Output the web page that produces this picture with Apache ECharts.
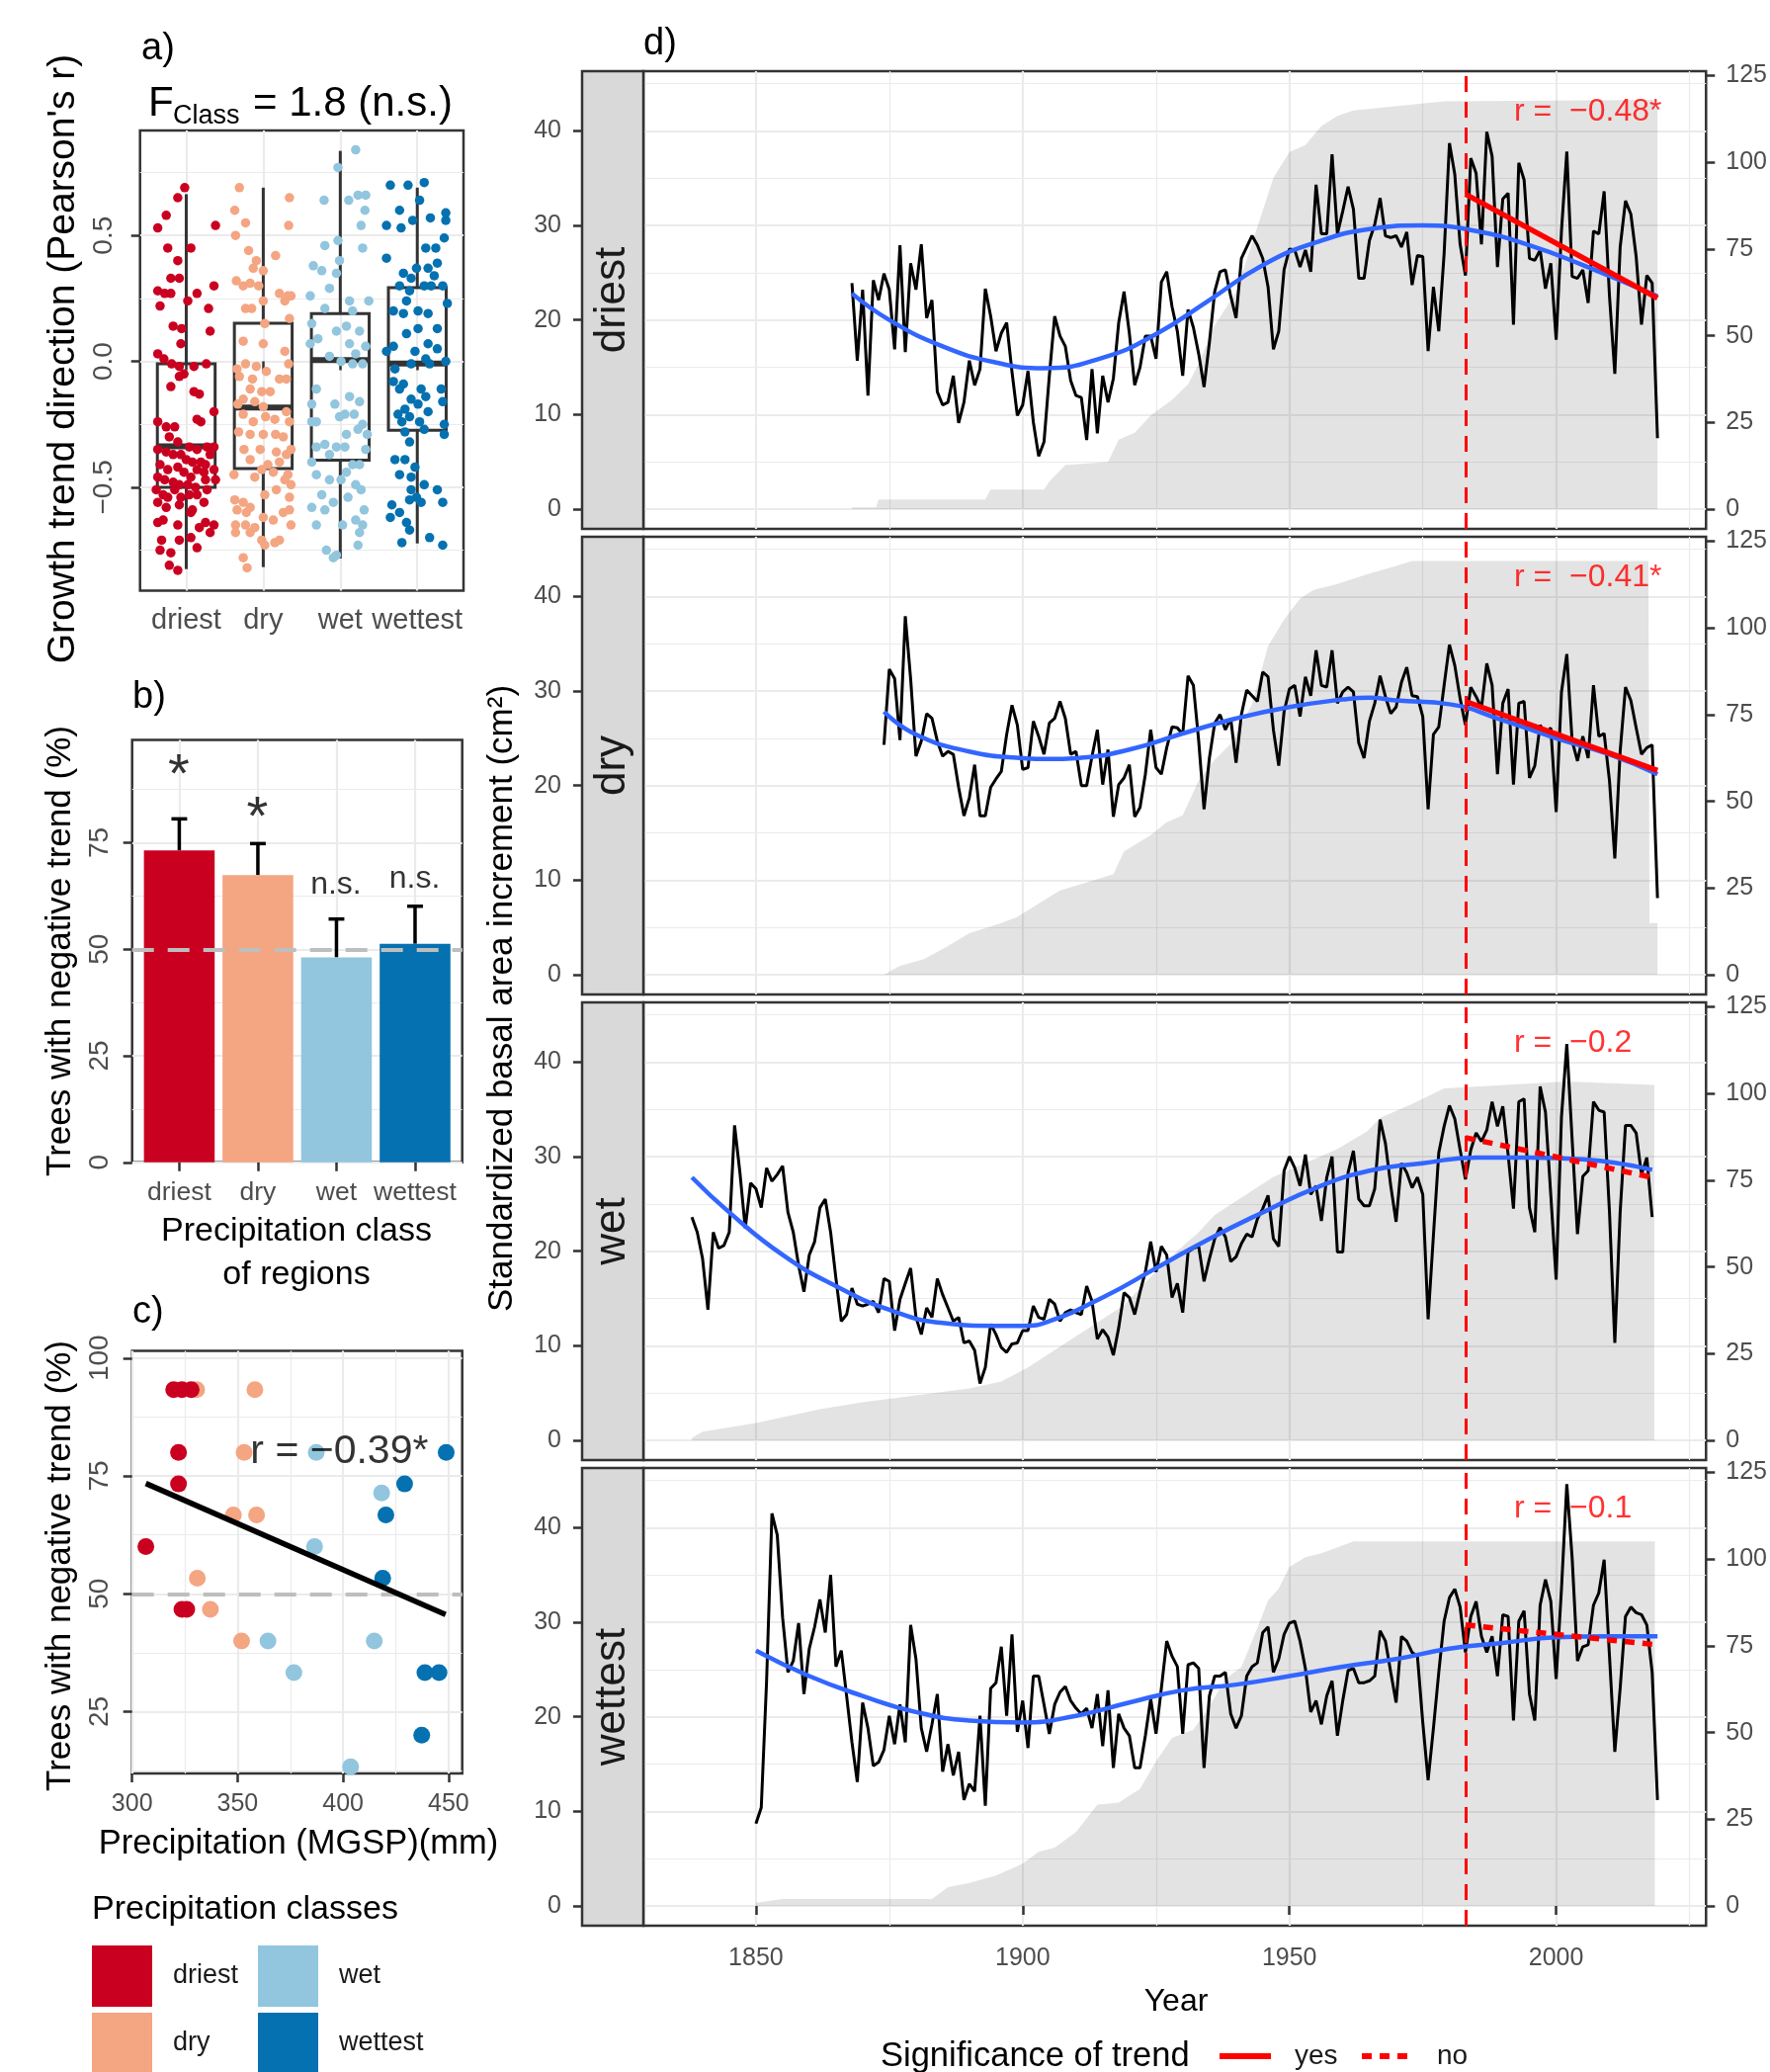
<!DOCTYPE html>
<html>
<head>
<meta charset="utf-8">
<script src="https://cdn.jsdelivr.net/npm/echarts@6/dist/echarts.min.js"></script>
<style>
  html, body { margin: 0; padding: 0; background: #fff; }
  #main { width: 1791px; height: 2096px; }
</style>
</head>
<body>
<div id="main"></div>
<script>
// ---- data ----
const classes = ['driest', 'dry', 'wet', 'wettest'];
const classColors = ['#CA0020', '#F4A582', '#92C5DE', '#0571B0'];

// a) growth trend direction, box stats [min, q1, median, q3, max]
const boxStats = [
  [-0.825, -0.50, -0.337, -0.01, 0.664],
  [-0.817, -0.426, -0.183, 0.151, 0.69],
  [-0.783, -0.392, 0.005, 0.19, 0.836],
  [-0.723, -0.274, -0.009, 0.293, 0.69]
];
// jittered trees [offset from class position, pearson r]
const jitterDriest = [[-0.02,0.69],[-0.11,0.65],[-0.26,0.58],[-0.37,0.53],[0.38,0.54],[-0.24,0.45],[0.06,0.45],[-0.11,0.40],[-0.20,0.33],[-0.09,0.33],
  [0.36,0.30],[-0.37,0.28],[-0.28,0.27],[-0.20,0.27],[0.14,0.27],[0.02,0.24],[-0.34,0.22],[0.29,0.21],[-0.17,0.14],[-0.06,0.13],
  [0.31,0.12],[-0.07,0.07],[-0.37,0.03],[-0.29,0.01],[-0.19,-0.01],[-0.09,-0.02],[0.10,-0.02],[0.26,-0.01],[-0.03,-0.05],[-0.09,-0.06],
  [-0.20,-0.10],[0.10,-0.12],[0.17,-0.13],[-0.37,-0.24],[-0.26,-0.26],[-0.15,-0.26],[0.14,-0.23],[0.19,-0.24],[0.36,-0.20],[-0.22,-0.30],
  [-0.11,-0.32],[0.04,-0.34],[0.14,-0.35],[0.27,-0.34],[0.36,-0.34],[-0.37,-0.35],[-0.26,-0.36],[-0.17,-0.37],[-0.07,-0.37],[0.00,-0.39],
  [0.08,-0.40],[0.19,-0.40],[0.25,-0.41],[0.31,-0.37],[-0.34,-0.41],[-0.24,-0.43],[-0.11,-0.42],[-0.03,-0.44],[0.06,-0.46],[0.14,-0.43],
  [0.23,-0.44],[0.36,-0.43],[-0.37,-0.46],[-0.28,-0.47],[-0.17,-0.48],[-0.09,-0.49],[0.02,-0.49],[0.12,-0.50],[0.25,-0.47],[0.38,-0.47],
  [-0.39,-0.51],[-0.30,-0.53],[-0.24,-0.54],[-0.15,-0.51],[-0.07,-0.54],[0.04,-0.53],[0.14,-0.53],[0.27,-0.51],[-0.37,-0.56],[-0.26,-0.58],
  [-0.09,-0.57],[0.08,-0.59],[0.23,-0.56],[-0.30,-0.63],[0.06,-0.60],[0.25,-0.64],[0.36,-0.65],[-0.37,-0.64],[-0.11,-0.65],[0.17,-0.66],
  [0.31,-0.68],[-0.32,-0.71],[-0.09,-0.71],[0.06,-0.70],[-0.34,-0.75],[-0.20,-0.76],[0.14,-0.74],[-0.22,-0.81],[-0.11,-0.83]];
const jitterDry = [[-0.31,0.69],[0.34,0.65],[-0.37,0.60],[-0.23,0.55],[0.33,0.54],[-0.36,0.50],[-0.19,0.44],[0.16,0.42],[-0.09,0.40],[-0.13,0.37],
  [0.00,0.36],[-0.35,0.32],[-0.17,0.31],[-0.26,0.30],[-0.06,0.30],[0.21,0.27],[0.32,0.26],[0.36,0.26],[0.28,0.24],[0.00,0.24],
  [-0.23,0.21],[-0.15,0.21],[0.34,0.17],[0.02,0.15],[-0.26,0.08],[0.00,0.07],[0.28,0.04],[0.33,-0.01],[-0.34,-0.03],[-0.23,-0.01],
  [-0.09,-0.02],[0.04,-0.04],[-0.31,-0.06],[-0.14,-0.07],[0.21,-0.07],[0.30,-0.07],[-0.17,-0.11],[-0.02,-0.12],[0.09,-0.12],[-0.26,-0.15],
  [-0.11,-0.16],[-0.33,-0.17],[0.00,-0.18],[0.30,-0.20],[-0.26,-0.21],[0.03,-0.22],[0.15,-0.23],[-0.13,-0.24],[0.34,-0.24],[-0.32,-0.28],
  [-0.17,-0.29],[0.00,-0.29],[0.16,-0.29],[0.26,-0.30],[-0.25,-0.35],[-0.04,-0.35],[0.17,-0.36],[0.30,-0.37],[0.36,-0.35],[-0.17,-0.39],
  [0.06,-0.41],[0.21,-0.40],[-0.02,-0.43],[0.13,-0.44],[0.32,-0.45],[-0.38,-0.45],[-0.11,-0.46],[0.28,-0.47],[0.36,-0.49],[0.17,-0.51],
  [0.02,-0.53],[0.34,-0.54],[-0.37,-0.55],[-0.26,-0.56],[-0.17,-0.58],[-0.34,-0.59],[-0.22,-0.60],[0.26,-0.60],[0.34,-0.59],[0.00,-0.62],
  [0.13,-0.63],[-0.36,-0.65],[-0.23,-0.65],[-0.11,-0.66],[0.36,-0.65],[-0.36,-0.68],[-0.17,-0.68],[-0.02,-0.71],[0.02,-0.73],[0.21,-0.71],
  [0.15,-0.72],[-0.26,-0.78],[-0.21,-0.82]];
const jitterWet = [[0.20,0.84],[-0.03,0.77],[-0.21,0.64],[0.11,0.64],[0.23,0.66],[0.33,0.66],[0.32,0.60],[0.27,0.54],[0.29,0.45],[-0.20,0.46],
  [-0.03,0.48],[-0.01,0.40],[-0.35,0.38],[-0.24,0.36],[-0.05,0.35],[-0.14,0.29],[-0.39,0.26],[0.12,0.24],[0.37,0.24],[-0.20,0.21],
  [0.16,0.20],[0.08,0.14],[-0.37,0.15],[-0.05,0.12],[0.25,0.12],[-0.29,0.09],[-0.39,0.07],[0.12,0.07],[0.33,0.06],[0.20,0.03],
  [-0.14,0.02],[0.16,-0.01],[0.29,-0.01],[0.01,0.00],[-0.31,-0.11],[0.12,-0.14],[0.25,-0.16],[-0.37,-0.17],[-0.07,-0.17],[0.18,-0.21],
  [0.06,-0.21],[-0.31,-0.24],[0.29,-0.25],[-0.37,-0.24],[-0.01,-0.22],[0.23,-0.27],[0.08,-0.29],[0.35,-0.29],[-0.20,-0.33],[0.06,-0.34],
  [-0.05,-0.34],[0.33,-0.35],[-0.31,-0.34],[-0.14,-0.37],[-0.37,-0.40],[0.16,-0.41],[0.25,-0.41],[0.08,-0.44],[-0.31,-0.45],[-0.14,-0.47],
  [0.01,-0.47],[0.20,-0.49],[0.27,-0.51],[-0.24,-0.53],[0.10,-0.54],[-0.09,-0.56],[-0.37,-0.58],[-0.20,-0.59],[0.31,-0.59],[0.20,-0.63],
  [0.29,-0.65],[-0.31,-0.65],[0.03,-0.65],[0.25,-0.68],[0.23,-0.73],[-0.18,-0.75],[-0.05,-0.77],[-0.09,-0.78]];
const jitterWettest = [[-0.35,0.70],[-0.12,0.70],[0.09,0.71],[0.03,0.64],[-0.23,0.60],[-0.40,0.54],[-0.21,0.53],[-0.06,0.56],[0.17,0.57],[0.37,0.59],
  [0.37,0.56],[0.35,0.49],[0.11,0.45],[0.24,0.45],[-0.40,0.41],[-0.01,0.37],[0.14,0.37],[0.26,0.39],[-0.18,0.35],[-0.08,0.33],
  [0.22,0.34],[-0.23,0.30],[0.09,0.30],[-0.10,0.28],[0.18,0.30],[0.33,0.30],[-0.14,0.24],[-0.31,0.20],[0.01,0.20],[0.14,0.19],
  [-0.18,0.19],[0.39,0.23],[0.26,0.13],[0.01,0.13],[-0.14,0.11],[0.14,0.07],[-0.31,0.06],[-0.40,0.04],[-0.03,0.04],[0.26,0.05],
  [0.11,0.01],[0.37,0.00],[-0.29,-0.03],[-0.08,-0.01],[0.16,-0.01],[-0.31,-0.08],[-0.18,-0.09],[-0.23,-0.11],[0.05,-0.11],[0.31,-0.11],
  [-0.08,-0.15],[0.11,-0.14],[0.33,-0.16],[-0.16,-0.19],[0.01,-0.17],[-0.25,-0.21],[0.14,-0.20],[-0.10,-0.22],[-0.20,-0.24],[0.03,-0.24],
  [0.35,-0.25],[-0.16,-0.28],[0.09,-0.27],[0.35,-0.29],[-0.10,-0.32],[-0.29,-0.39],[-0.16,-0.39],[-0.03,-0.42],[-0.23,-0.45],[-0.08,-0.46],
  [0.09,-0.49],[-0.08,-0.51],[0.26,-0.51],[-0.01,-0.54],[0.05,-0.56],[-0.10,-0.55],[-0.33,-0.57],[0.33,-0.56],[-0.23,-0.60],[-0.35,-0.62],
  [-0.14,-0.64],[-0.10,-0.67],[0.16,-0.70],[-0.20,-0.72],[0.33,-0.73]];
const jitterByClass = [jitterDriest, jitterDry, jitterWet, jitterWettest];

// b) trees with negative trend (%)
const negShare = [73.2, 67.4, 48.1, 51.3];
const negShareUpper = [80.6, 74.8, 57.1, 60.1];
const sigText = ['*', '*', 'n.s.', 'n.s.'];
const sigTextY = [90.3, 80.5, 64.9, 66.4];

// c) regions: precipitation (mm) vs trees with negative trend (%)
const precipDriest = [319.7, 323.6, 328.0, 322.0, 322.0, 306.5, 323.6, 325.9];
const shareDriest = [93.3, 93.3, 93.3, 80.0, 73.3, 60.0, 46.7, 46.7];
const precipDry = [330.6, 358.2, 353.1, 348.0, 359.0, 330.9, 337.1, 351.9];
const shareDry = [93.3, 93.3, 80.0, 66.7, 66.7, 53.3, 46.7, 40.0];
const precipWet = [387.3, 418.3, 386.5, 364.4, 414.8, 376.7, 403.6];
const shareWet = [80.0, 71.4, 60.0, 40.0, 40.0, 33.3, 13.3];
const precipWettest = [448.9, 429.2, 420.3, 418.8, 438.8, 445.5, 437.3];
const shareWettest = [80.0, 73.3, 66.7, 53.3, 33.3, 33.3, 20.0];
const fitX = [306.5, 448.6];
const fitY = [73.4, 45.6];
const corrText = 'r = −0.39*';
const corrPos = [356.3, 79.9];

// d) standardized basal area increment (cm2), one value per year from the start year
const baiStartYear = [1868, 1874, 1838, 1850];
const baiDriest = [23.9,15.7,23.2,12.0,24.2,22.1,24.9,23.2,16.9,27.9,16.6,26.0,23.2,28.0,20.2,22.1,12.4,11.0,11.3,14.1,
  9.1,11.3,15.7,13.1,14.8,23.3,20.4,16.7,18.6,19.7,14.5,9.9,11.0,14.6,9.2,5.6,7.1,14.1,20.4,18.3,
  17.2,13.6,12.0,11.8,7.3,14.8,8.0,14.1,11.3,13.8,19.7,23.0,18.6,13.1,15.0,18.3,18.3,15.9,24.0,25.1,
  21.4,18.8,14.1,21.1,19.2,16.4,12.9,17.6,23.0,25.1,25.3,22.5,20.2,26.5,27.7,28.9,27.9,26.5,23.5,16.9,
  18.8,25.3,27.5,27.4,25.6,27.4,25.1,34.3,29.1,29.1,37.5,29.1,31.5,34.1,31.7,24.4,24.4,28.4,30.1,32.9,
  28.9,28.7,28.9,27.7,29.3,23.7,26.8,26.7,16.7,23.5,18.8,27.0,38.7,35.4,28.0,24.7,37.1,35.5,28.0,39.9,
  37.3,25.6,32.8,33.4,19.5,36.6,34.8,26.5,26.3,27.4,23.3,26.0,17.9,29.4,37.8,24.6,24.4,25.3,21.8,29.4,
  29.1,33.6,22.5,14.3,27.7,32.6,31.2,26.7,19.5,24.7,23.9,7.5];
const baiDry = [24.3,32.3,31.3,24.8,37.9,31.3,23.1,24.7,27.6,27.1,24.7,23.1,23.6,23.3,19.8,16.8,18.7,22.2,16.8,16.8,
  19.8,20.7,21.5,25.4,28.5,26.4,21.7,21.9,26.8,25.2,23.3,26.6,27.1,28.9,27.1,23.3,23.6,20.0,20.0,23.1,
  25.9,20.1,23.8,16.7,20.1,20.8,22.2,16.7,17.7,21.2,25.9,21.9,21.2,24.0,26.2,26.1,25.4,31.6,30.6,24.7,
  17.5,22.9,26.6,27.5,25.9,27.1,22.4,27.5,30.1,29.5,28.9,32.0,31.5,25.9,22.1,27.8,30.2,30.6,27.3,31.5,
  29.5,34.3,30.6,30.4,34.3,28.7,29.9,30.4,29.9,24.5,22.9,26.8,28.7,31.6,29.4,27.6,28.3,30.9,32.5,29.5,
  29.4,27.3,17.5,25.4,26.2,30.6,34.9,32.7,29.2,26.4,30.4,29.4,28.2,32.9,30.6,21.2,28.7,30.2,20.1,28.7,
  28.9,20.8,22.1,26.4,25.4,26.1,17.2,29.9,33.9,24.7,22.6,25.2,22.9,30.6,25.2,25.5,20.5,12.3,23.6,30.4,
  29.0,26.1,23.3,24.0,24.3,8.1];
const baiWet = [23.6,22.0,19.2,13.8,22.0,20.3,20.6,22.0,33.3,28.3,22.4,27.2,26.6,24.6,28.8,27.4,28.1,29.0,24.1,22.0,
  18.5,15.7,19.6,21.0,24.6,25.5,22.0,17.1,12.6,13.3,16.1,14.4,14.2,14.4,14.7,13.5,17.1,16.8,11.6,14.9,
  16.6,18.2,13.0,11.2,14.0,13.0,17.1,15.4,14.0,12.6,13.0,10.3,10.5,9.5,6.0,7.7,12.3,11.2,9.8,9.3,
  10.2,10.3,11.6,11.6,14.2,13.0,12.8,14.9,14.4,12.6,13.5,13.8,13.5,13.3,16.3,14.7,10.7,11.7,10.9,9.0,
  11.9,15.6,15.1,13.3,15.7,17.8,21.0,17.8,20.5,19.6,15.1,16.6,13.5,19.9,20.3,20.5,16.8,19.2,21.3,22.5,
  21.5,18.9,19.4,20.8,21.8,21.5,23.4,24.5,25.9,21.3,20.5,28.5,30.0,28.8,26.9,30.2,26.0,26.9,23.2,27.8,
  30.0,19.9,19.9,28.3,30.6,25.5,24.8,24.8,26.6,33.9,31.4,26.9,23.1,29.3,28.3,26.7,27.8,26.0,12.8,21.7,
  30.4,33.2,35.4,34.0,30.7,27.6,30.7,32.5,31.6,32.8,35.8,33.2,35.3,30.2,24.5,35.8,36.1,24.6,22.0,37.4,
  34.7,25.9,17.0,34.2,41.9,31.8,21.8,27.9,28.5,35.8,34.9,34.7,24.1,10.3,24.1,33.3,33.3,32.5,28.1,29.9,
  23.6];
const baiWettest = [8.7,10.4,23.8,41.5,39.2,30.5,24.7,25.9,29.9,22.4,27.2,29.5,32.4,28.9,35.0,25.3,27.0,22.2,17.3,13.1,
  21.5,18.8,14.8,15.2,16.5,20.1,17.1,21.3,17.3,29.7,26.1,18.8,16.3,19.2,22.4,14.2,17.1,13.8,16.3,11.2,
  12.9,12.1,20.1,10.6,23.0,23.6,27.4,20.1,28.7,18.4,21.7,16.7,24.3,24.3,21.3,18.2,21.3,22.6,23.2,21.7,
  20.9,20.3,20.9,18.8,22.4,16.9,22.8,14.6,20.3,18.8,18.0,14.6,14.6,18.0,21.9,18.2,23.0,28.0,26.4,25.3,
  18.2,25.5,25.7,25.1,14.6,22.2,24.3,24.3,24.7,20.3,18.8,20.1,24.3,25.3,25.7,28.9,29.5,24.7,26.1,28.7,
  29.9,30.1,28.0,25.1,20.5,21.7,19.2,22.2,23.8,18.0,21.7,24.9,25.1,23.6,23.6,23.8,24.3,29.1,28.0,24.7,
  21.5,28.5,28.0,26.8,26.4,19.4,13.3,18.8,24.7,30.1,32.6,33.5,31.6,26.8,30.6,32.2,28.5,26.8,28.5,24.3,
  30.8,30.6,19.6,30.1,31.2,22.4,19.6,31.8,34.5,32.2,24.0,33.5,44.6,36.8,25.9,27.4,27.6,31.8,33.1,36.6,
  26.4,16.3,23.0,30.6,31.6,31.0,30.8,29.7,24.7,11.2];
const baiByClass = [baiDriest, baiDry, baiWet, baiWettest];

// smoothed BAI curves (read at knots)
const smoothYears = [
  [1868,1875,1885,1895,1904,1915,1925,1935,1945,1955,1965,1975,1985,1995,2005,2019],
  [1874,1880,1890,1900,1905,1910,1920,1930,1940,1950,1960,1965,1970,1980,1990,2000,2010,2019],
  [1838,1845,1855,1865,1875,1885,1895,1900,1905,1915,1925,1935,1945,1955,1965,1975,1985,1995,2005,2018],
  [1850,1860,1870,1880,1890,1900,1910,1920,1930,1940,1950,1960,1970,1980,1990,2000,2010,2019]
];
const smoothBai = [
  [22.8,20.0,17.2,15.5,14.9,16.0,18.5,22.1,25.8,28.2,29.6,30.0,29.4,27.9,25.8,22.5],
  [27.8,25.4,23.6,22.9,22.8,22.9,23.8,25.5,27.1,28.3,29.1,29.3,29.0,28.6,26.9,25.0,23.3,21.2],
  [27.8,24.1,19.6,16.3,13.8,12.4,12.1,12.1,12.6,15.1,18.2,21.3,24.1,26.7,28.5,29.3,29.9,29.9,29.7,28.6],
  [27.0,24.3,22.2,20.5,19.6,19.4,20.1,21.5,22.8,23.4,24.3,25.3,26.1,27.2,27.8,28.4,28.5,28.5]
];

// number of trees (right axis)
const treeYears = [
  [1868,1872.5,1873,1893,1894,1904,1905,1908,1916,1918,1921,1924,1928,1931,1933,1936,1940,1944,1947,1950,1953,1956,1959,1962,1973,1979,2019],
  [1874,1877,1881.5,1886,1890,1896,1899,1903,1907,1913,1917,1919,1924,1927,1930,1933,1936,1939,1943,1946,1949,1952,1954.5,1959,1964.5,1970,1973,2017.3,2017.5,2019],
  [1838,1840,1850,1856,1862,1870,1880,1890,1896,1901,1907,1913,1919,1924.5,1930,1933,1936,1942,1947,1953,1959,1964.5,1967,1973,1979,2002,2018.4],
  [1850,1855,1883,1886,1890,1895,1900,1903,1906,1910,1914,1918,1922,1925,1928,1932,1935,1938,1941,1944,1946,1948,1950,1953,1956,1960,1962,2018.5]
];
const trees = [
  [0.5,0.5,2.8,2.8,5.6,5.6,8,12.7,13.6,20,22,27,31.5,36,42,53,62.6,81.4,95.5,103,105,110.5,113.4,115,116.7,117.6,118],
  [0,2.6,4.5,8.3,12,14.9,16.7,20.5,24.3,27.1,29,35.6,40.3,44,46,56,62,66.6,78,94.8,102.4,108.5,111,112.7,115.5,117.9,119.3,119.3,14.9,14.9],
  [0.7,2.5,5,7,9,11,13,15,17,21,27,33,39,48,56,60,65,71,76,80,84,89,93,97,101.5,103.5,102.5],
  [0.9,2,2,5.4,6.6,8.8,12.2,15.6,16.8,21.3,29.2,29.8,33.8,41.7,48.5,50.8,57.6,65.5,68.9,80.2,88.1,91.5,97.8,100.6,101.7,104,105.1,105.1]
];

// trend since the break year
const breakYear = 1983;
const trendYears = [[1983, 2019], [1983, 2019], [1983, 2018], [1983, 2019]];
const trendBai = [[33.3, 22.3], [28.9, 21.6], [32.0, 27.8], [29.7, 27.6]];
const trendSignificant = [true, true, false, false];
const trendText = ['r =  −0.48*', 'r =  −0.41*', 'r =  −0.2', 'r =  −0.1'];
const trendTextPos = [1992.2, 41.9];

// ---- layout / style ----
const FONT = "'Liberation Sans', Arial, Helvetica, sans-serif";
const AXIS_TXT = '#4D4D4D';
const GRID_LINE = '#EBEBEB';
const BORDER = '#333333';

const grids = [], xAxes = [], yAxes = [], series = [], graphics = [];

function addGrid(g) {
  grids.push(Object.assign({ show: true, borderColor: BORDER, borderWidth: 2.5, backgroundColor: 'rgba(0,0,0,0)' }, g));
  return grids.length - 1;
}
function addAxis(list, gi, min, max, values, o) {
  o = o || {};
  const ax = {
    type: 'value', gridIndex: gi, min: min, max: max,
    axisLine: { show: false },
    axisTick: { show: !!o.ticks, customValues: values, length: 9, lineStyle: { color: BORDER, width: 2.5 } },
    axisLabel: {
      show: !!o.labels, customValues: values, color: AXIS_TXT, fontFamily: FONT,
      fontSize: o.fontSize || 25, margin: o.margin || 14, rotate: o.rotate || 0,
      formatter: o.formatter || function (v) { return String(v); }
    },
    splitLine: { show: o.grid !== false, lineStyle: { color: GRID_LINE, width: o.minor ? 1.2 : 2.2 } }
  };
  if (o.position) ax.position = o.position;
  if (o.offset) ax.offset = o.offset;
  list.push(ax);
  return list.length - 1;
}
function pairs(xs, ys) { return xs.map(function (x, k) { return [x, ys[k]]; }); }
function text(str, x, y, size, o) {
  o = o || {};
  graphics.push({
    type: 'text', x: x, y: y, rotation: o.rot || 0, z: 100, silent: true,
    style: { text: str, font: size + 'px ' + FONT, fill: o.color || '#000000',
      textAlign: o.align || 'center', textVerticalAlign: 'middle' }
  });
}
function fmtR(v) {
  if (Math.abs(v) < 1e-9) return '0.0';
  return (v < 0 ? '−' : '') + Math.abs(v).toFixed(1);
}
function className(v) { return classes[Math.round(v) - 1]; }

// ---- panel a ----
const gA = addGrid({ left: 141.7, top: 132, width: 327.3, height: 465.6 });
const xA = addAxis(xAxes, gA, 0.4, 4.6, [1, 2, 3, 4], { ticks: true, labels: true, fontSize: 29, margin: 16, formatter: className });
const yA = addAxis(yAxes, gA, -0.911, 0.917, [-0.5, 0, 0.5], { ticks: true, labels: true, fontSize: 28, margin: 22, rotate: 90, formatter: fmtR, position: 'left' });
addAxis(yAxes, gA, -0.911, 0.917, [-0.75, -0.25, 0.25, 0.75], { minor: true, position: 'left' });

series.push({
  type: 'custom', xAxisIndex: xA, yAxisIndex: yA, z: 2, silent: true,
  data: boxStats.map(function (s, i) { return [i + 1].concat(s); }),
  renderItem: function (params, api) {
    const x = api.value(0), half = 0.375;
    const pMin = api.coord([x, api.value(1)]), pQ1 = api.coord([x, api.value(2)]);
    const pMed = api.coord([x, api.value(3)]), pQ3 = api.coord([x, api.value(4)]);
    const pMax = api.coord([x, api.value(5)]);
    const l = api.coord([x - half, 0])[0], r = api.coord([x + half, 0])[0];
    const st = { stroke: BORDER, lineWidth: 3, fill: null };
    return { type: 'group', children: [
      { type: 'line', shape: { x1: pMin[0], y1: pMin[1], x2: pQ1[0], y2: pQ1[1] }, style: st },
      { type: 'line', shape: { x1: pQ3[0], y1: pQ3[1], x2: pMax[0], y2: pMax[1] }, style: st },
      { type: 'rect', shape: { x: l, y: pQ3[1], width: r - l, height: pQ1[1] - pQ3[1] }, style: st },
      { type: 'line', shape: { x1: l, y1: pMed[1], x2: r, y2: pMed[1] }, style: { stroke: BORDER, lineWidth: 6 } }
    ] };
  }
});
jitterByClass.forEach(function (pts, i) {
  series.push({
    type: 'scatter', xAxisIndex: xA, yAxisIndex: yA, z: 3, silent: true,
    symbolSize: 9.5, itemStyle: { color: classColors[i], opacity: 1 },
    data: pts.map(function (p) { return [i + 1 + p[0], p[1]]; })
  });
});

// ---- panel b ----
const gB = addGrid({ left: 133.7, top: 748.6, width: 334, height: 427.2 });
const xB = addAxis(xAxes, gB, 0.4, 4.6, [1, 2, 3, 4], { ticks: true, labels: true, fontSize: 26.5, margin: 17, formatter: className });
const yB = addAxis(yAxes, gB, 0, 99.1, [0, 25, 50, 75], { ticks: true, labels: true, fontSize: 28, margin: 18, rotate: 90, position: 'left' });
addAxis(yAxes, gB, 0, 99.1, [12.5, 37.5, 62.5, 87.5], { minor: true, position: 'left' });

series.push({
  type: 'line', xAxisIndex: xB, yAxisIndex: yB, data: [], z: 1, silent: true,
  markLine: { silent: true, symbol: ['none', 'none'], label: { show: false },
    lineStyle: { color: '#BEBEBE', width: 4, type: [22, 14] }, data: [{ yAxis: 50 }] }
});
series.push({
  type: 'custom', xAxisIndex: xB, yAxisIndex: yB, z: 3, silent: true,
  data: negShare.map(function (v, i) { return [i + 1, v, negShareUpper[i]]; }),
  renderItem: function (params, api) {
    const x = api.value(0), v = api.value(1), up = api.value(2);
    const tl = api.coord([x - 0.45, v]), br = api.coord([x + 0.45, 0]);
    const base = api.coord([x, v]), top = api.coord([x, up]);
    const cl = api.coord([x - 0.1, up]), cr = api.coord([x + 0.1, up]);
    const es = { stroke: '#000000', lineWidth: 3.5 };
    return { type: 'group', children: [
      { type: 'line', shape: { x1: base[0], y1: base[1], x2: top[0], y2: top[1] }, style: es },
      { type: 'line', shape: { x1: cl[0], y1: cl[1], x2: cr[0], y2: cr[1] }, style: es },
      { type: 'rect', shape: { x: tl[0], y: tl[1], width: br[0] - tl[0], height: br[1] - tl[1] },
        style: { fill: classColors[params.dataIndex] } }
    ] };
  }
});
series.push({
  type: 'scatter', xAxisIndex: xB, yAxisIndex: yB, z: 4, silent: true,
  symbolSize: 1, itemStyle: { color: 'rgba(0,0,0,0)' },
  data: sigTextY.map(function (y, i) {
    return { value: [i + 1, y], label: { fontSize: sigText[i] === '*' ? 56 : 32 } };
  }),
  label: { show: true, position: [0, 0], align: 'center', verticalAlign: 'middle', color: '#000', fontFamily: FONT,
    formatter: function (p) { return sigText[p.dataIndex]; } }
});

// ---- panel c ----
const gC = addGrid({ left: 133.7, top: 1366.6, width: 334, height: 427.4 });
const xC = addAxis(xAxes, gC, 300, 456.5, [300, 350, 400, 450], { ticks: true, labels: true, fontSize: 25, margin: 19 });
addAxis(xAxes, gC, 300, 456.5, [325, 375, 425], { minor: true });
const yC = addAxis(yAxes, gC, 11.9, 101.5, [25, 50, 75, 100], { ticks: true, labels: true, fontSize: 28, margin: 18, rotate: 90, position: 'left' });
addAxis(yAxes, gC, 11.9, 101.5, [12.5, 37.5, 62.5, 87.5], { minor: true, position: 'left' });

series.push({
  type: 'line', xAxisIndex: xC, yAxisIndex: yC, data: [], z: 1, silent: true,
  markLine: { silent: true, symbol: ['none', 'none'], label: { show: false },
    lineStyle: { color: '#BEBEBE', width: 4, type: [22, 14] }, data: [{ yAxis: 50 }] }
});
[[precipDry, shareDry], [precipDriest, shareDriest], [precipWet, shareWet], [precipWettest, shareWettest]].forEach(function (d, k) {
  const ci = [1, 0, 2, 3][k];
  series.push({
    type: 'scatter', xAxisIndex: xC, yAxisIndex: yC, z: 3, silent: true,
    symbolSize: 17, itemStyle: { color: classColors[ci], opacity: 1 },
    data: pairs(d[0], d[1])
  });
});
series.push({
  type: 'line', xAxisIndex: xC, yAxisIndex: yC, z: 5, silent: true, symbol: 'none',
  lineStyle: { color: '#000000', width: 5.5 }, data: pairs(fitX, fitY)
});
series.push({
  type: 'scatter', xAxisIndex: xC, yAxisIndex: yC, z: 6, silent: true,
  symbolSize: 1, itemStyle: { color: 'rgba(0,0,0,0)' }, data: [corrPos],
  label: { show: true, position: [0, 0], align: 'left', verticalAlign: 'middle', color: '#000', fontFamily: FONT, fontSize: 41,
    formatter: function () { return corrText; } }
});

// ---- panel d ----
const D_TOP0 = 72, D_STEP = 471, D_H = 463, D_LEFT = 651, D_W = 1077, STRIP_W = 62;
const leftMin = -2.09, leftMax = 46.3, rightMin = -5.7, rightMax = 126.3;

classes.forEach(function (cls, i) {
  const top = D_TOP0 + i * D_STEP;
  const last = i === classes.length - 1;
  const g = addGrid({ left: D_LEFT, top: top, width: D_W, height: D_H });
  const xi = addAxis(xAxes, g, 1828.9, 2028.1, [1850, 1900, 1950, 2000], { ticks: last, labels: last, fontSize: 25, margin: 21 });
  addAxis(xAxes, g, 1828.9, 2028.1, [1875, 1925, 1975, 2025], { minor: true });
  const yl = addAxis(yAxes, g, leftMin, leftMax, [0, 10, 20, 30, 40], { ticks: true, labels: true, fontSize: 25, margin: 21, position: 'left', offset: STRIP_W });
  addAxis(yAxes, g, leftMin, leftMax, [5, 15, 25, 35, 45], { minor: true, position: 'left' });
  const yr = addAxis(yAxes, g, rightMin, rightMax, [0, 25, 50, 75, 100, 125], { ticks: true, labels: true, fontSize: 25, margin: 20, position: 'right', grid: false });

  series.push({
    type: 'line', xAxisIndex: xi, yAxisIndex: yr, z: 1, silent: true, symbol: 'none',
    lineStyle: { width: 0 }, areaStyle: { color: 'rgba(0,0,0,0.11)', opacity: 1 },
    data: pairs(treeYears[i], trees[i])
  });
  series.push({
    type: 'line', xAxisIndex: xi, yAxisIndex: yl, z: 3, silent: true, symbol: 'none',
    lineStyle: { color: '#000000', width: 3 },
    data: baiByClass[i].map(function (v, k) { return [baiStartYear[i] + k, v]; })
  });
  series.push({
    type: 'line', xAxisIndex: xi, yAxisIndex: yl, z: 4, silent: true, symbol: 'none', smooth: 0.5,
    lineStyle: { color: '#3366FF', width: 4.5 },
    data: pairs(smoothYears[i], smoothBai[i])
  });
  series.push({
    type: 'line', xAxisIndex: xi, yAxisIndex: yl, z: 5, silent: true, symbol: 'none',
    lineStyle: { color: '#FF0000', width: 5.5, type: trendSignificant[i] ? 'solid' : [10, 8] },
    data: pairs(trendYears[i], trendBai[i]),
    markLine: { silent: true, symbol: ['none', 'none'], label: { show: false },
      lineStyle: { color: '#FF0000', width: 3, type: [16, 10] }, data: [{ xAxis: breakYear }] }
  });
  series.push({
    type: 'scatter', xAxisIndex: xi, yAxisIndex: yl, z: 6, silent: true,
    symbolSize: 1, itemStyle: { color: 'rgba(0,0,0,0)' }, data: [trendTextPos],
    label: { show: true, position: [0, 0], align: 'left', verticalAlign: 'middle', color: '#FF0000', fontFamily: FONT, fontSize: 32,
      formatter: function () { return trendText[i]; } }
  });

  // facet strip
  graphics.push({ type: 'rect', silent: true, z: 50,
    shape: { x: D_LEFT - STRIP_W, y: top, width: STRIP_W, height: D_H },
    style: { fill: '#D9D9D9', stroke: BORDER, lineWidth: 2.5 } });
  text(cls, D_LEFT - STRIP_W / 2, top + D_H / 2, 44, { rot: Math.PI / 2, color: '#1A1A1A' });
});

// ---- titles, labels, legends ----
text('a)', 143, 50, 38, { align: 'left' });
text('b)', 134, 706, 38, { align: 'left' });
text('c)', 134, 1328, 38, { align: 'left' });
text('d)', 651, 45, 38, { align: 'left' });

text('F', 150, 105, 42, { align: 'left' });
text('Class', 175, 118, 27, { align: 'left' });
text('= 1.8 (n.s.)', 256, 105, 42, { align: 'left' });

text('Growth trend direction (Pearson\'s r)', 64, 363, 39, { rot: Math.PI / 2 });
text('Trees with negative trend (%)', 61, 962, 35, { rot: Math.PI / 2 });
text('Precipitation class', 300, 1246, 34);
text('of regions', 300, 1290, 34);
text('Trees with negative trend (%)', 61, 1584, 35, { rot: Math.PI / 2 });
text('Precipitation (MGSP)(mm)', 302, 1865, 34.5);

text('Standardized basal area increment (cm²)', 508, 1010, 35, { rot: Math.PI / 2 });
text('Year', 1190, 2025, 32);

// precipitation class legend
text('Precipitation classes', 93, 1932, 34, { align: 'left' });
classes.forEach(function (cls, i) {
  const col = Math.floor(i / 2), row = i % 2;
  const x = 93 + col * 168, y = 1968 + row * 68;
  graphics.push({ type: 'rect', silent: true, z: 50, shape: { x: x, y: y, width: 61, height: 62 }, style: { fill: classColors[i] } });
  text(cls, x + 82, y + 31, 27, { align: 'left', color: '#1A1A1A' });
});

// significance legend
text('Significance of trend', 891, 2080, 34.5, { align: 'left' });
graphics.push({ type: 'line', silent: true, z: 50, shape: { x1: 1234, y1: 2080, x2: 1286, y2: 2080 }, style: { stroke: '#FF0000', lineWidth: 6 } });
text('yes', 1310, 2080, 28, { align: 'left', color: '#1A1A1A' });
graphics.push({ type: 'line', silent: true, z: 50, shape: { x1: 1378, y1: 2080, x2: 1432, y2: 2080 }, style: { stroke: '#FF0000', lineWidth: 6, lineDash: [10, 8] } });
text('no', 1454, 2080, 28, { align: 'left', color: '#1A1A1A' });

const chart = echarts.init(document.getElementById('main'), null, { renderer: 'canvas' });
chart.setOption({
  animation: false,
  backgroundColor: '#ffffff',
  grid: grids,
  xAxis: xAxes,
  yAxis: yAxes,
  series: series,
  graphic: { elements: graphics }
});
</script>
</body>
</html>
